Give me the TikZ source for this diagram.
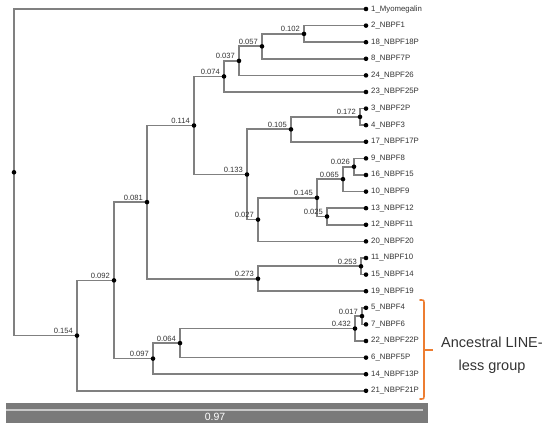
\documentclass[tikz,border=0pt]{standalone}
\usepackage{fontspec}
\setmainfont{Liberation Sans}
\usetikzlibrary{calc}
\definecolor{branch}{HTML}{808080}
\definecolor{labelc}{HTML}{333333}
\definecolor{barc}{HTML}{7A7A7A}
\definecolor{barline}{HTML}{C8C8C8}
\definecolor{brk}{HTML}{ED7D31}
\tikzset{
  br/.style={draw=branch, line width=1.7pt},
  dotn/.style={circle, fill=black, inner sep=0pt, minimum size=4.6pt},
  leaflab/.style={anchor=west, inner sep=0pt, text=labelc, font=\fontsize{7.8}{8}\selectfont},
  blen/.style={anchor=south east, inner sep=0pt, text=labelc, font=\fontsize{7.6}{8}\selectfont},
}
\begin{document}
\begin{tikzpicture}[x=1pt,y=-1pt]
\useasboundingbox (0,0) rectangle (550,428);
% leaves
\foreach \i/\t in {0/1\_Myomegalin,1/2\_NBPF1,2/18\_NBPF18P,3/8\_NBPF7P,4/24\_NBPF26,5/23\_NBPF25P,6/3\_NBPF2P,7/4\_NBPF3,8/17\_NBPF17P,9/9\_NBPF8,10/16\_NBPF15,11/10\_NBPF9,12/13\_NBPF12,13/12\_NBPF11,14/20\_NBPF20,15/11\_NBPF10,16/15\_NBPF14,17/19\_NBPF19,18/5\_NBPF4,19/7\_NBPF6,20/22\_NBPF22P,21/6\_NBPF5P,22/14\_NBPF13P,23/21\_NBPF21P}{
  \coordinate (L\i) at (366,{9+16.6*\i});
  \node[leaflab] (T\i) at (371,{9+16.6*\i}) {\t};
}
% internal nodes
\coordinate (n102) at (304,33.9);
\coordinate (n057) at (262,46.35);
\coordinate (n037) at (239,60.875);
\coordinate (n074) at (224,76.44);
\coordinate (n172) at (360,116.9);
\coordinate (n105) at (291,129.35);
\coordinate (n026) at (354,166.7);
\coordinate (n065) at (343,179.15);
\coordinate (n025) at (327,216.5);
\coordinate (n145) at (317,197.8);
\coordinate (n027) at (258,219.6);
\coordinate (n133) at (247,174.5);
\coordinate (n114) at (194,125.5);
\coordinate (n253) at (361,266.3);
\coordinate (n273) at (258,278.75);
\coordinate (n081) at (147,202.1);
\coordinate (n017) at (362,316.1);
\coordinate (n432) at (355,328.55);
\coordinate (n064) at (180,343.1);
\coordinate (n097) at (153,358.6);
\coordinate (n092) at (114,280.4);
\coordinate (n154) at (77,335.6);
\coordinate (root) at (14,172.3);
% branches
\foreach \p/\a/\b in {n102/L1/L2, n057/n102/L3, n037/n057/L4, n074/n037/L5,
  n172/L6/L7, n105/n172/L8, n026/L9/L10, n065/n026/L11, n025/L12/L13,
  n145/n065/n025, n027/n145/L14, n133/n105/n027, n114/n074/n133,
  n253/L15/L16, n273/n253/L17, n081/n114/n273, n017/L18/L19, n432/n017/L20,
  n064/n432/L21, n097/n064/L22, n092/n081/n097, n154/n092/L23, root/L0/n154}{
  \draw[br] (\a) -| (\p) |- (\b);
}
% dots
\foreach \n in {L0,L1,L2,L3,L4,L5,L6,L7,L8,L9,L10,L11,L12,L13,L14,L15,L16,L17,L18,L19,L20,L21,L22,L23,
  n102,n057,n037,n074,n172,n105,n026,n065,n025,n145,n027,n133,n114,n253,n273,n081,n017,n432,n064,n097,n092,n154,root}{
  \node[dotn] at (\n) {};
}
% branch labels
\foreach \n/\v in {n102/0.102, n057/0.057, n037/0.037, n074/0.074, n172/0.172, n105/0.105,
  n026/0.026, n065/0.065, n025/0.025, n145/0.145, n027/0.027, n133/0.133, n114/0.114,
  n253/0.253, n273/0.273, n081/0.081, n017/0.017, n432/0.432, n064/0.064, n097/0.097,
  n092/0.092, n154/0.154}{
  \node[blen] at ($(\n)+(-4,-1.8)$) {\v};
}
% scale bar
\fill[barc] (6,403) rectangle (428,423);
\draw[barline, line width=1.5pt] (6,410) -- (423,410);
\node[text=white, font=\fontsize{10.5}{12}\selectfont, inner sep=0pt] (scale) at (215,417) {0.97};
% bracket
\draw[brk, line width=1.6pt, line cap=round] (420,300) .. controls (424,300) .. (424,304) -- (424,395) .. controls (424,399) .. (420,399);
\draw[brk, line width=1.6pt] (424,350) -- (433,350);
\node[text=labelc, font=\fontsize{14.5}{23}\selectfont, align=center, inner sep=0pt] (grp) at (492,355) {Ancestral LINE-\\less group};
\end{tikzpicture}
\end{document}
